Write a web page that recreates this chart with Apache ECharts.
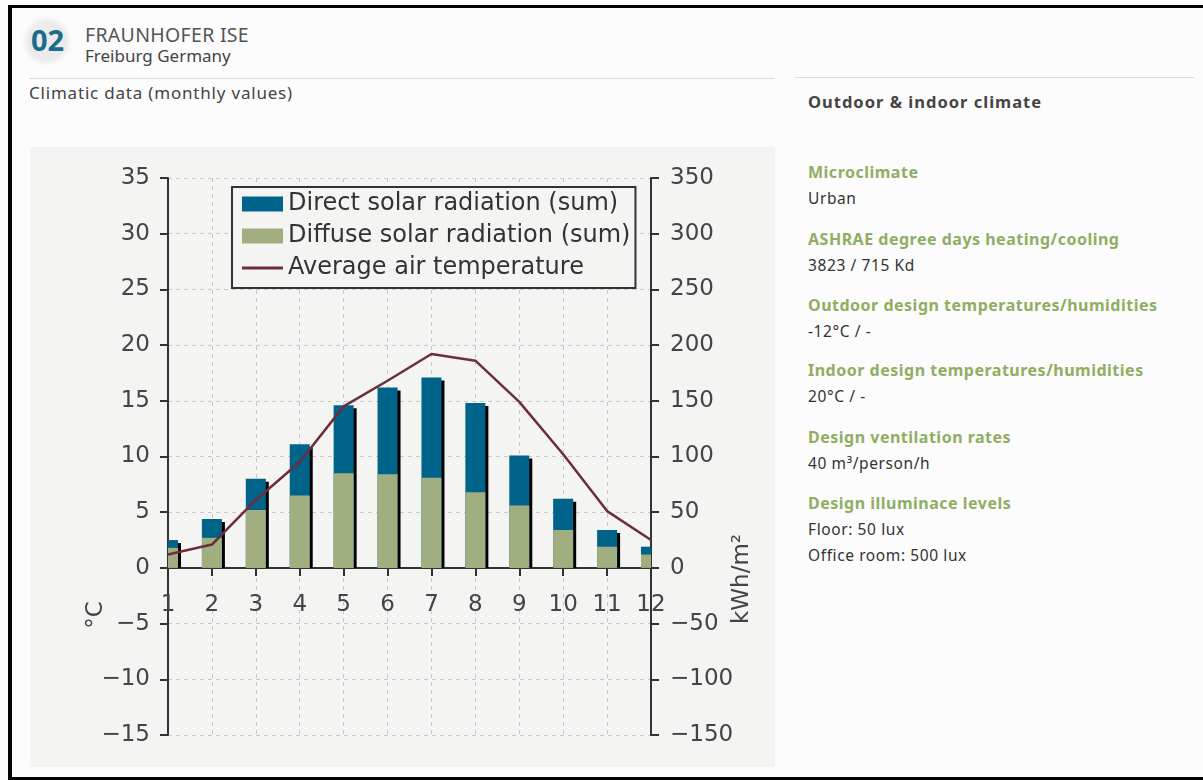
<!DOCTYPE html>
<html>
<head>
<meta charset="utf-8">
<title>Fraunhofer ISE - climatic data</title>
<script src="https://cdn.jsdelivr.net/npm/echarts@6/dist/echarts.min.js"></script>
<style>
  body { margin: 0; background: #fcfcfc; font-family: "Noto Sans", sans-serif; }
  #page { position: relative; width: 1203px; height: 780px; overflow: hidden; }
  .frame { position: absolute; background: #000; }
  .abs { position: absolute; white-space: nowrap; line-height: 20px; }
  .badge { position: absolute; left: 22px; top: 16px; width: 50px; height: 50px; border-radius: 50%;
    background: radial-gradient(circle, #ebebeb 52%, rgba(235,235,235,0) 72%); }
  .num { font-weight: bold; font-size: 29px; color: #1b6c8c; line-height: 30px; }
  .rule { position: absolute; height: 1px; background: #dcdcdc; }
  .side { font-size: 15.5px; color: #333; letter-spacing: 0.6px; }
  .side b { color: #8fae62; font-size: 16px; letter-spacing: 0.5px; }
  #chart { position: absolute; left: 30px; top: 147px; width: 745px; height: 620px; }
</style>
</head>
<body>
<div id="page">
  <div class="frame" style="left:8px;top:5px;width:1195px;height:3px"></div>
  <div class="frame" style="left:8px;top:5px;width:4px;height:775px"></div>
  <div class="frame" style="left:8px;top:777px;width:1195px;height:3px"></div>

  <div class="badge"></div>
  <div class="abs num" style="left:31px;top:25px">02</div>
  <div class="abs" style="left:85px;top:25px;font-size:19.5px;color:#555;letter-spacing:0.3px">FRAUNHOFER ISE</div>
  <div class="abs" style="left:85px;top:46px;font-size:17px;color:#444">Freiburg Germany</div>
  <div class="rule" style="left:29px;top:78px;width:746px"></div>
  <div class="abs" style="left:29px;top:83px;font-size:17px;color:#444;letter-spacing:0.8px">Climatic data (monthly values)</div>

  <div class="rule" style="left:795px;top:77px;width:399px"></div>
  <div class="abs side" style="left:808px;top:92px"><b style="color:#444;font-size:16.5px;letter-spacing:1px">Outdoor &amp; indoor climate</b></div>
  <div class="abs side" style="left:808px;top:162px"><b>Microclimate</b></div>
  <div class="abs side" style="left:808px;top:188px">Urban</div>
  <div class="abs side" style="left:808px;top:229px"><b>ASHRAE degree days heating/cooling</b></div>
  <div class="abs side" style="left:808px;top:255px">3823 / 715 Kd</div>
  <div class="abs side" style="left:808px;top:295px"><b>Outdoor design temperatures/humidities</b></div>
  <div class="abs side" style="left:808px;top:321px">-12°C / -</div>
  <div class="abs side" style="left:808px;top:360px"><b>Indoor design temperatures/humidities</b></div>
  <div class="abs side" style="left:808px;top:386px">20°C / -</div>
  <div class="abs side" style="left:808px;top:427px"><b>Design ventilation rates</b></div>
  <div class="abs side" style="left:808px;top:453px">40 m³/person/h</div>
  <div class="abs side" style="left:808px;top:493px"><b>Design illuminace levels</b></div>
  <div class="abs side" style="left:808px;top:519px">Floor: 50 lux</div>
  <div class="abs side" style="left:808px;top:545px">Office room: 500 lux</div>

  <div id="chart"></div>
</div>
<script>
var months = ['1', '2', '3', '4', '5', '6', '7', '8', '9', '10', '11', '12'];
// kWh/m2 per month
var directRad = [7, 17, 28, 46, 61, 78, 90, 80, 45, 28, 15, 7];
var diffuseRad = [18, 27, 52, 65, 85, 84, 81, 68, 56, 34, 19, 12];
// degC
var airTemp = [1.2, 2.1, 6.1, 9.5, 14.5, 16.8, 19.2, 18.6, 14.9, 10.2, 5.1, 2.5];

var seriesNames = ['Direct solar radiation (sum)', 'Diffuse solar radiation (sum)', 'Average air temperature'];
var font = '"DejaVu Sans", sans-serif';
var axisColor = '#333';
var dashed = { color: '#c9c9c9', type: [4, 4], width: 1 };
var blue = '#00648a', green = '#a1ae80', maroon = '#6c2e3a';

var tempMin = -15, tempMax = 35;
var gridTop = 31, gridBottom = 32, chartHeight = 620;
// x axis sits on 0 degC, so lift it from the grid bottom
var plotHeight = chartHeight - gridTop - gridBottom;
var xOffset = -(0 - tempMin) / (tempMax - tempMin) * plotHeight;

// rows: [month index, direct, diffuse]
var radRows = months.map(function (m, i) { return [i, directRad[i], diffuseRad[i]]; });

var BAR_W = 20, SHADOW = 3;

function minus(v) {
  return v < 0 ? '\u2212' + Math.abs(v) : String(v);
}

// bars are clipped to the plot like in the original (half bars at month 1 and 12)
function clipped(r, cs) {
  return echarts.graphic.clipRectByRect(r, { x: cs.x, y: cs.y, width: cs.width, height: cs.height });
}

// direct radiation: drawn as the whole column (direct + diffuse) with its black drop shadow,
// the diffuse series is painted over its lower part
function renderDirect(params, api) {
  var i = api.value(0);
  var total = api.value(1) + api.value(2);
  var top = api.coord([i, total]);
  var zero = api.coord([i, 0]);
  var x = top[0] - BAR_W / 2;
  var shadowRect = clipped({ x: x + SHADOW, y: top[1] + SHADOW, width: BAR_W, height: zero[1] - top[1] - SHADOW }, params.coordSys);
  var barRect = clipped({ x: x, y: top[1], width: BAR_W, height: zero[1] - top[1] }, params.coordSys);
  var children = [];
  if (shadowRect) children.push({ type: 'rect', shape: shadowRect, style: { fill: '#000' } });
  if (barRect) children.push({ type: 'rect', shape: barRect, style: { fill: blue } });
  return { type: 'group', children: children };
}

function renderDiffuse(params, api) {
  var i = api.value(0);
  var top = api.coord([i, api.value(2)]);
  var zero = api.coord([i, 0]);
  var r = clipped({ x: top[0] - BAR_W / 2, y: top[1], width: BAR_W, height: zero[1] - top[1] }, params.coordSys);
  return r ? { type: 'rect', shape: r, style: { fill: green } } : null;
}

var option = {
  backgroundColor: '#f4f4f2',
  animation: false,
  textStyle: { fontFamily: font },
  grid: { left: 138, right: 124, top: gridTop, bottom: gridBottom, outerBoundsMode: 'none' },
  legend: {
    data: [
      { name: seriesNames[0], icon: 'rect' },
      { name: seriesNames[1], icon: 'rect' },
      { name: seriesNames[2], icon: 'path://M0,0H40V3H0Z' }
    ],
    orient: 'vertical',
    left: 202,
    top: 40,
    itemWidth: 41,
    itemHeight: 15,
    itemGap: 8,
    padding: [5, 5, 8, 10],
    borderColor: '#333',
    borderWidth: 2,
    backgroundColor: '#f4f4f2',
    textStyle: { fontFamily: font, fontSize: 24, color: '#333' }
  },
  xAxis: {
    type: 'category',
    data: months,
    boundaryGap: false,
    offset: xOffset,
    axisLine: { onZero: false, lineStyle: { color: axisColor, width: 2 } },
    axisTick: { show: true, interval: 0, length: 8, lineStyle: { color: axisColor, width: 2 } },
    axisLabel: { interval: 0, margin: 26, fontSize: 23, color: '#444', fontFamily: font },
    splitLine: { show: true, interval: 0, lineStyle: dashed }
  },
  yAxis: [
    {
      type: 'value', position: 'left', min: tempMin, max: tempMax, interval: 5,
      axisLine: { show: true, onZero: false, lineStyle: { color: axisColor, width: 2 } },
      axisTick: { show: true, length: 8, lineStyle: { color: axisColor, width: 2 } },
      axisLabel: { margin: 18, fontSize: 23, color: '#444', fontFamily: font, formatter: minus },
      splitLine: { show: true, lineStyle: dashed }
    },
    {
      type: 'value', position: 'right', min: -150, max: 350, interval: 50,
      axisLine: { show: true, onZero: false, lineStyle: { color: axisColor, width: 2 } },
      axisTick: { show: true, length: 8, lineStyle: { color: axisColor, width: 2 } },
      axisLabel: { margin: 19, fontSize: 23, color: '#444', fontFamily: font, formatter: minus },
      splitLine: { show: false }
    }
  ],
  graphic: [
    {
      type: 'text', x: 66, y: 468, rotation: Math.PI / 2,
      style: { text: '°C', fontSize: 23, fontFamily: font, fill: '#444', textAlign: 'center', textVerticalAlign: 'middle' }
    },
    {
      type: 'text', x: 712, y: 432, rotation: Math.PI / 2,
      style: { text: 'kWh/m²', fontSize: 23, fontFamily: font, fill: '#444', textAlign: 'center', textVerticalAlign: 'middle' }
    }
  ],
  series: [
    {
      name: seriesNames[0],
      type: 'custom',
      yAxisIndex: 1,
      z: 2,
      itemStyle: { color: blue },
      renderItem: renderDirect,
      encode: { x: 0, y: [1, 2] },
      data: radRows
    },
    {
      name: seriesNames[1],
      type: 'custom',
      yAxisIndex: 1,
      z: 3,
      itemStyle: { color: green },
      renderItem: renderDiffuse,
      encode: { x: 0, y: 2 },
      data: radRows
    },
    {
      name: seriesNames[2],
      type: 'line',
      yAxisIndex: 0,
      symbol: 'none',
      z: 4,
      lineStyle: { color: maroon, width: 2.5 },
      itemStyle: { color: maroon },
      data: airTemp
    }
  ]
};

var myChart = echarts.init(document.getElementById('chart'));
myChart.setOption(option);
</script>
</body>
</html>
